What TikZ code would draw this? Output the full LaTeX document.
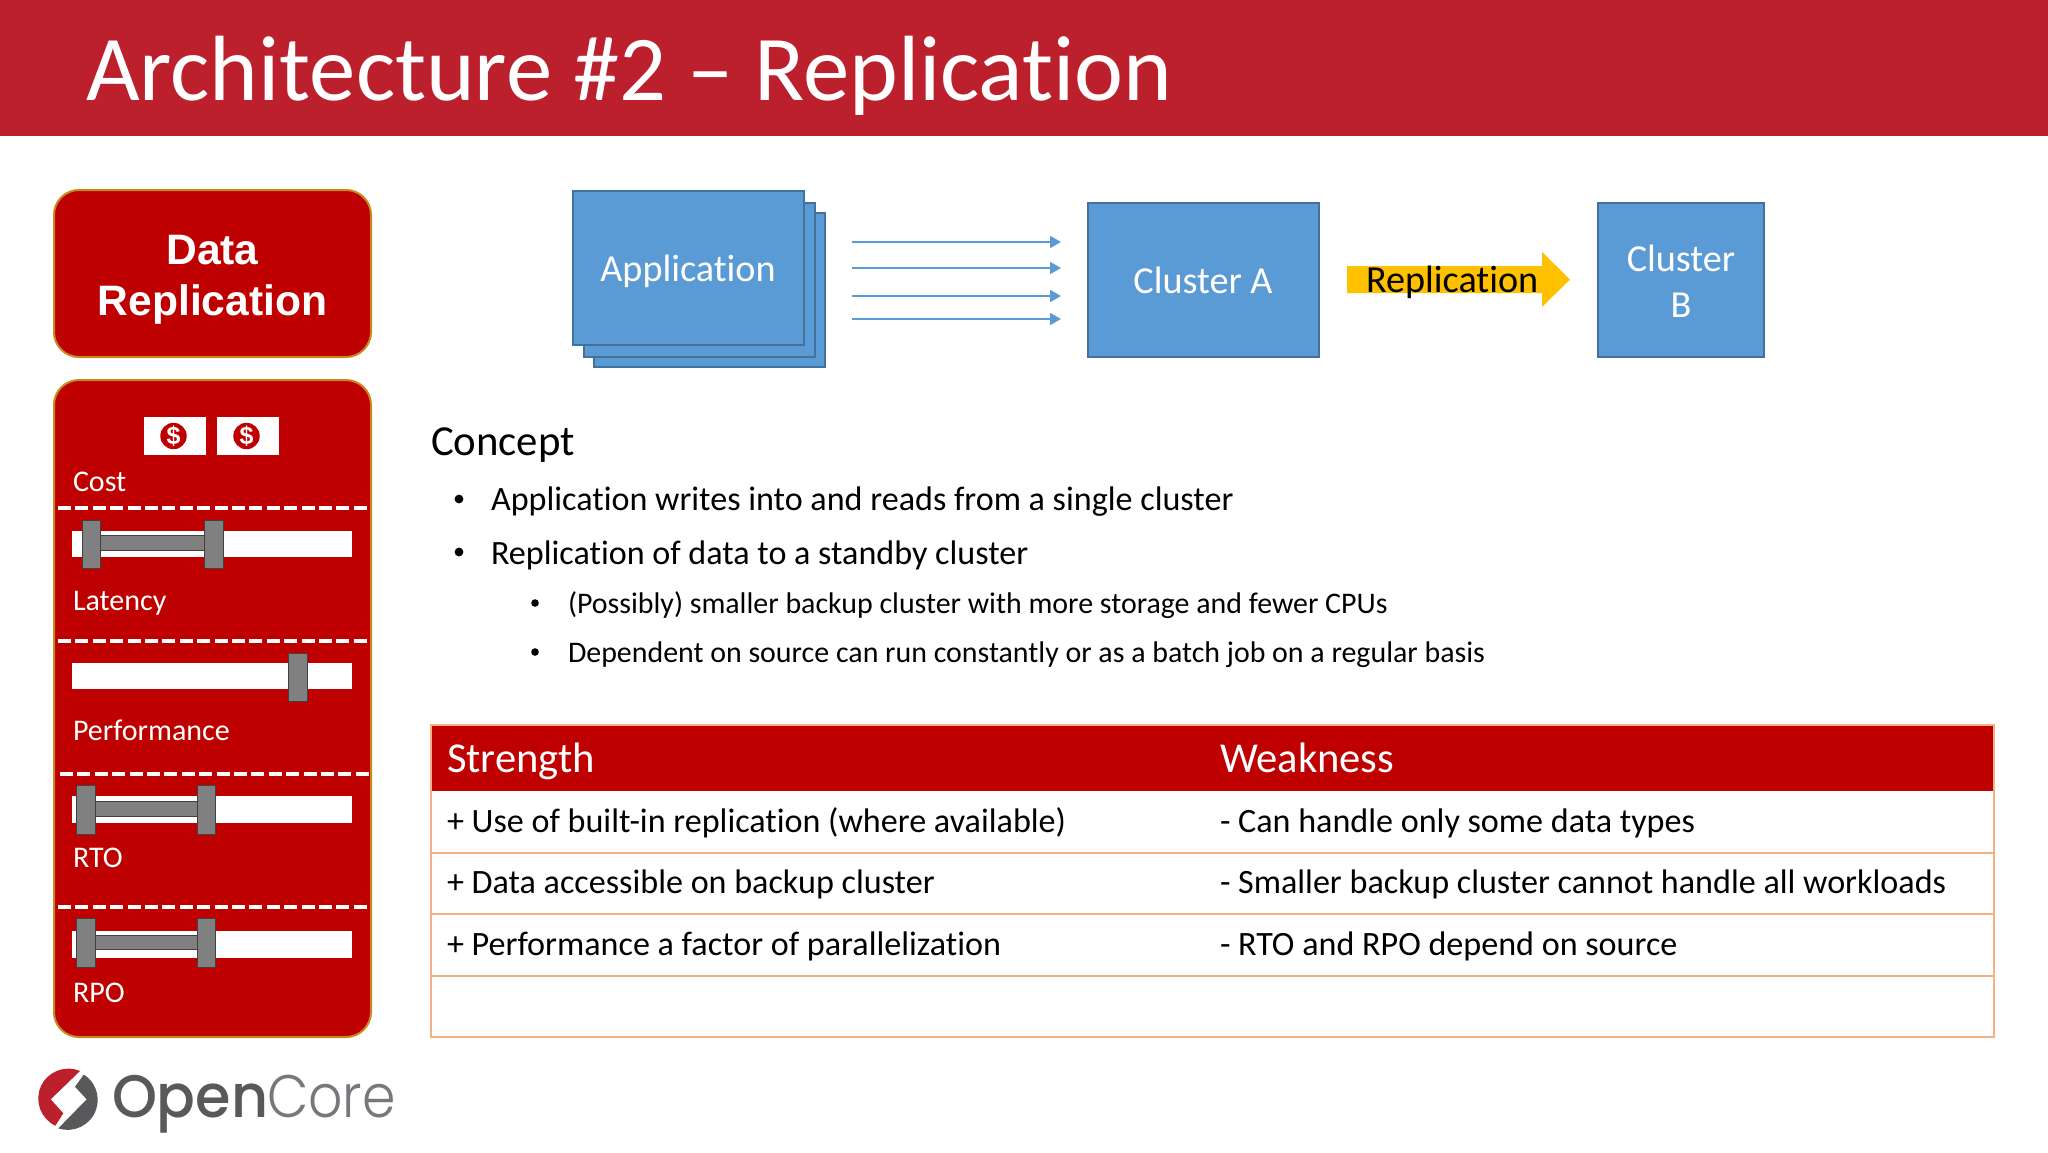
\documentclass[tikz,border=0pt]{standalone}
\usepackage{fontspec}
\setmainfont[Ligatures=NoCommon]{Carlito}
\newfontfamily\arialf{Liberation Sans}
\newfontfamily\logolight[FakeStretch=0.895]{Poppins Light}
\newfontfamily\logobold[FakeStretch=0.955]{Poppins Medium}
\definecolor{hdr}{HTML}{BC202D}
\definecolor{panelred}{HTML}{BE0000}
\definecolor{panelline}{HTML}{C8891C}
\definecolor{appblue}{HTML}{5B9BD5}
\definecolor{appedge}{HTML}{41719C}
\definecolor{gold}{HTML}{FFC000}
\definecolor{handle}{HTML}{808080}
\definecolor{rowline}{HTML}{F4B183}
\definecolor{logogray}{HTML}{58595B}
\definecolor{logolite}{HTML}{77787B}
\usetikzlibrary{arrows.meta}
\tikzset{
  x=0.5pt,y=-0.5pt,
  panel/.style={draw=panelline,line width=1pt,fill=panelred,rounded corners=12.5pt},
  bluebox/.style={draw=appedge,line width=1pt,fill=appblue},
  bar/.style={fill=white},
  slider/.style={draw=black!75,line width=0.5pt,fill=handle},
  dashsep/.style={draw=white,line width=1.6pt,dash pattern=on 6.5pt off 2.2pt},
  flow/.style={draw=appblue,line width=1pt,-{Triangle[length=5.5pt,width=6pt]}},
  lbl/.style={anchor=base west,inner sep=0pt,outer sep=0pt},
  panellbl/.style={lbl,text=white,font=\fontsize{15}{16}\selectfont},
  boxtxt/.style={anchor=center,text=white,align=center,inner sep=0pt,font=\fontsize{19.1}{23}\selectfont},
  cellhead/.style={lbl,text=white,font=\fontsize{21.3}{24}\selectfont},
  cell/.style={lbl,text=black,font=\fontsize{17.05}{20}\selectfont},
}
\begin{document}
\begin{tikzpicture}
\useasboundingbox (0,0) rectangle (2048,1152);
\fill[white] (0,0) rectangle (2048,1152);
\fill[hdr] (0,0) rectangle (2048,136);
\node[lbl,text=white,font=\fontsize{46.35}{50}\selectfont] (title) at (86,100) {Architecture \#2 -- Replication};

% left panels
\path[panel] (54,190) rectangle (371,357);
\node[anchor=center,text=white,align=center,font=\arialf\bfseries\fontsize{21.3}{25.5}\selectfont] (dr) at (212.5,280) {Data\\Replication};
\path[panel] (54,380) rectangle (371,1037);

% money icons
\foreach \xa/\nm in {144/ma,217/mb}{
  \fill[white] (\xa,417) rectangle ++(61.5,38);
  \fill[panelred] (\xa+29.5,436) circle[radius=6.6pt];
  \node[text=white,font=\arialf\bfseries\fontsize{12.5}{13}\selectfont,inner sep=0pt] (\nm) at (\xa+29.5,436) {\$};
}
\node[panellbl] (cost) at (73,491) {Cost};
\draw[dashsep] (58,508) -- (368,508);
\draw[dashsep] (58,641) -- (368,641);
\draw[dashsep] (60,774) -- (370,774);
\draw[dashsep] (58,907) -- (368,907);

% sliders
\fill[bar] (72,531) rectangle (352,557);
\draw[slider] (100,535) rectangle (204,550);
\draw[slider] (82,520) rectangle (100,568);
\draw[slider] (204,520) rectangle (223,568);
\node[panellbl] (lat) at (73,610) {Latency};

\fill[bar] (72,663) rectangle (352,689);
\draw[slider] (288,653) rectangle (307,701);
\node[panellbl] (perf) at (73,740) {Performance};

\fill[bar] (72,796) rectangle (352,823);
\draw[slider] (95,801) rectangle (197,816);
\draw[slider] (76,785) rectangle (95,834);
\draw[slider] (197,785) rectangle (215,834);
\node[panellbl] (rto) at (73,867) {RTO};

\fill[bar] (72,931) rectangle (352,958);
\draw[slider] (95,935) rectangle (197,949);
\draw[slider] (76,918) rectangle (95,967);
\draw[slider] (197,918) rectangle (215,967);
\node[panellbl] (rpo) at (73,1002) {RPO};

% logo
\fill[hdr] (80,1071) arc[start angle=67,end angle=244.5,radius=15pt] -- (63.3,1113.3) -- (50.7,1099.3) -- cycle;
\fill[logogray] (58.3,1128.3) arc[start angle=251.7,end angle=417.5,radius=15pt] -- (75,1086.7) -- (86.7,1099.3) -- cycle;
\node[lbl,text=logogray,font=\logobold\fontsize{30}{30}\selectfont] (logoa) at (112,1117) {Open};
\node[lbl,text=logolite,font=\logolight\fontsize{30}{30}\selectfont] (logob) at (267,1117) {Core};

% top diagram
\path[bluebox] (594,213) rectangle (825,367);
\path[bluebox] (584,203) rectangle (815,357);
\path[bluebox] (573,191) rectangle (804,345);
\node[boxtxt] (app) at (688,271) {Application};
\path[bluebox] (1088,203) rectangle (1319,357);
\node[boxtxt] (clusa) at (1203,280) {Cluster A};
\path[bluebox] (1598,203) rectangle (1764,357);
\node[boxtxt] (clusb) at (1681,281) {Cluster\\B};
\coordinate (a1s) at (852,242); \coordinate (a1e) at (1061,242);
\coordinate (a2s) at (852,268); \coordinate (a2e) at (1061,268);
\coordinate (a3s) at (852,296); \coordinate (a3e) at (1061,296);
\coordinate (a4s) at (852,319); \coordinate (a4e) at (1061,319);
\draw[flow] (a1s) -- (a1e);
\draw[flow] (a2s) -- (a2e);
\draw[flow] (a3s) -- (a3e);
\draw[flow] (a4s) -- (a4e);
\fill[gold] (1347,266) -- (1542,266) -- (1542,252) -- (1570,279.5) -- (1542,307) -- (1542,293) -- (1347,293) -- cycle;
\node[lbl,text=black,font=\fontsize{19.1}{20}\selectfont] (repl) at (1366,292) {Replication};

% concept
\node[lbl,font=\fontsize{21.4}{24}\selectfont] (concept) at (431,455) {Concept};
\node[lbl,font=\fontsize{17.05}{20}\selectfont] (b1) at (491,510) {Application writes into and reads from a single cluster};
\node[lbl,font=\fontsize{17.05}{20}\selectfont] (b2) at (491,564) {Replication of data to a standby cluster};
\node[lbl,font=\fontsize{14.95}{18}\selectfont] (b3) at (568,613) {(Possibly) smaller backup cluster with more storage and fewer CPUs};
\node[lbl,font=\fontsize{14.95}{18}\selectfont] (b4) at (568,662) {Dependent on source can run constantly or as a batch job on a regular basis};
\fill (459,499) circle[radius=2.2pt];
\fill (459,552) circle[radius=2.2pt];
\fill (535,603) circle[radius=1.9pt];
\fill (535,652) circle[radius=1.9pt];

% table
\fill[panelred] (431,725) rectangle (1994,791);
\draw[rowline,line width=0.7pt] (431,725) rectangle (1994,1037);
\draw[rowline,line width=0.7pt] (431,853) -- (1994,853);
\draw[rowline,line width=0.7pt] (431,914) -- (1994,914);
\draw[rowline,line width=0.7pt] (431,976) -- (1994,976);
\node[cellhead] (ths) at (447,772) {Strength};
\node[cellhead] (thw) at (1220,772) {Weakness};
\node[cell] (s1) at (447,832) {+ Use of built-in replication (where available)};
\node[cell] (w1) at (1220,832) {- Can handle only some data types};
\node[cell] (s2) at (447,893) {+ Data accessible on backup cluster};
\node[cell] (w2) at (1220,893) {- Smaller backup cluster cannot handle all workloads};
\node[cell] (s3) at (447,955) {+ Performance a factor of parallelization};
\node[cell] (w3) at (1220,955) {- RTO and RPO depend on source};
\end{tikzpicture}
\end{document}
